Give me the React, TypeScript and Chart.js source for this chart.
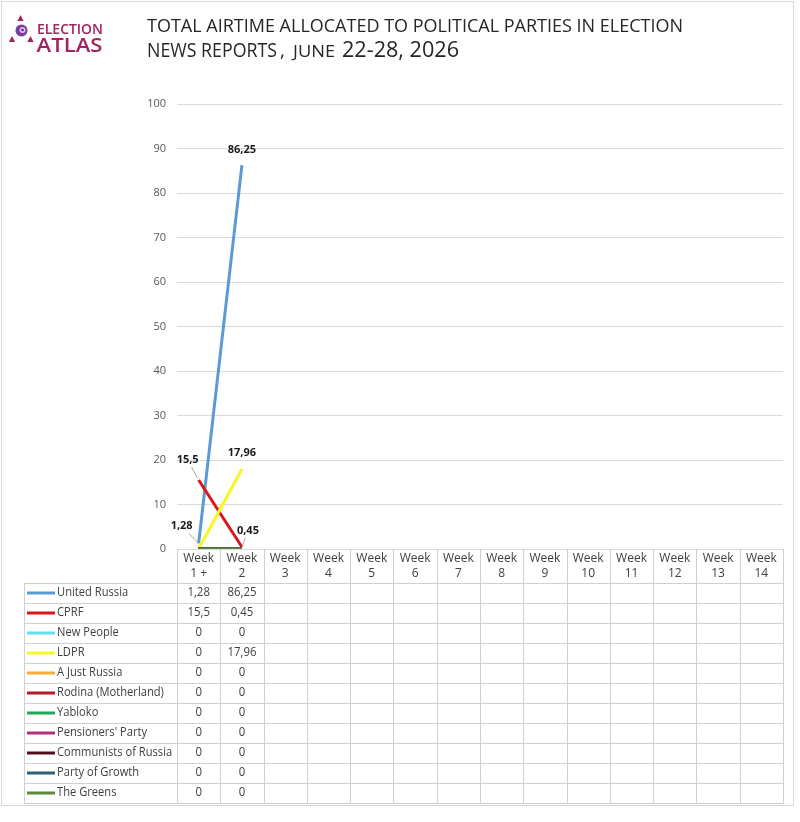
import React, { useEffect, useRef } from "react";
import { Chart, registerables } from "chart.js";

Chart.register(...registerables);

// ---------- DATA ----------
const weeks = [
  "Week 1 +", "Week 2", "Week 3", "Week 4", "Week 5", "Week 6", "Week 7",
  "Week 8", "Week 9", "Week 10", "Week 11", "Week 12", "Week 13", "Week 14",
];

const parties = [
  "United Russia", "CPRF", "New People", "LDPR", "A Just Russia",
  "Rodina (Motherland)", "Yabloko", "Pensioners' Party",
  "Communists of Russia", "Party of Growth", "The Greens",
];

const partyColors = [
  "#5B9BD5", "#DA161C", "#5FE0EC", "#F7F722", "#F5AA3C",
  "#B5192B", "#1FA657", "#B0307F", "#4A0F1A", "#2F5F73", "#5B8A3A",
];

const unitedRussia = [1.28, 86.25];
const cprf = [15.5, 0.45];
const newPeople = [0, 0];
const ldpr = [0, 17.96];
const aJustRussia = [0, 0];
const rodina = [0, 0];
const yabloko = [0, 0];
const pensioners = [0, 0];
const communistsOfRussia = [0, 0];
const partyOfGrowth = [0, 0];
const theGreens = [0, 0];

const seriesValues = [
  unitedRussia, cprf, newPeople, ldpr, aJustRussia, rodina,
  yabloko, pensioners, communistsOfRussia, partyOfGrowth, theGreens,
];

const yMin = 0;
const yMax = 100;
const yStep = 10;

const titleLine1 = "TOTAL AIRTIME ALLOCATED TO POLITICAL PARTIES IN ELECTION";
const titleLine2a = "NEWS REPORTS";
const titleLine2b = "JUNE";
const titleLine2c = "22-28, 2026";
const logoTop = "ELECTION";
const logoBottom = "ATLAS";

// which points carry a value label (series index, point index) and label offset
const labelledPoints = [
  { series: 0, index: 0, dx: -17, dy: -17, leader: true },
  { series: 0, index: 1, dx: 0, dy: -15, leader: false },
  { series: 1, index: 0, dx: -11, dy: -20, leader: true },
  { series: 1, index: 1, dx: 6, dy: -16, leader: true },
  { series: 3, index: 1, dx: 0, dy: -16, leader: false },
];

// ---------- HELPERS ----------
const FAMILY = "'Open Sans', 'DejaVu Sans', sans-serif";
const fmt = (v: number) => String(v).replace(".", ",");

function drawText(
  ctx: CanvasRenderingContext2D,
  s: string,
  x: number,
  y: number,
  o: { size: number; color: string; align?: CanvasTextAlign; weight?: string; sx?: number; fit?: number; baseline?: CanvasTextBaseline }
) {
  ctx.save();
  ctx.font = `${o.weight || "normal"} ${o.size}px ${FAMILY}`;
  ctx.fillStyle = o.color;
  ctx.textAlign = o.align || "left";
  ctx.textBaseline = o.baseline || "middle";
  let sx = o.sx || 1;
  if (o.fit) {
    const w = ctx.measureText(s).width;
    if (w > 0) sx = o.fit / w;
  }
  ctx.translate(x, y);
  ctx.scale(sx, 1);
  ctx.fillText(s, 0, 0);
  ctx.restore();
}

const backgroundPlugin = {
  id: "bgFrame",
  beforeDraw(chart: any) {
    const ctx = chart.ctx as CanvasRenderingContext2D;
    ctx.save();
    ctx.fillStyle = "#ffffff";
    ctx.fillRect(0, 0, chart.width, chart.height);
    ctx.strokeStyle = "#d9d9d9";
    ctx.lineWidth = 1;
    ctx.strokeRect(1.5, 1.5, 792, 804);
    ctx.restore();
  },
};

const headerPlugin = {
  id: "header",
  afterDraw(chart: any) {
    const ctx = chart.ctx as CanvasRenderingContext2D;
    const logoColor = "#A3235F";
    // logo icon
    ctx.save();
    ctx.fillStyle = logoColor;
    const tri = (cx: number, cy: number, s: number) => {
      ctx.beginPath();
      ctx.moveTo(cx, cy - s);
      ctx.lineTo(cx + s * 0.9, cy + s * 0.7);
      ctx.lineTo(cx - s * 0.9, cy + s * 0.7);
      ctx.closePath();
      ctx.fill();
    };
    tri(20.5, 18.5, 3.5);
    tri(12, 39.5, 3.5);
    tri(30.5, 39.5, 3.5);
    ctx.fillStyle = "#7B3B9E";
    ctx.beginPath();
    ctx.arc(21.5, 30.5, 6, 0, Math.PI * 2);
    ctx.fill();
    ctx.fillStyle = "#D8C2E6";
    ctx.beginPath();
    ctx.arc(22.5, 30, 3, 0, Math.PI * 2);
    ctx.fill();
    ctx.fillStyle = "#5A2378";
    ctx.beginPath();
    ctx.arc(22.5, 30, 1.3, 0, Math.PI * 2);
    ctx.fill();
    ctx.restore();

    drawText(ctx, logoTop, 37, 33.5, { size: 14, color: logoColor, baseline: "alphabetic", fit: 66, weight: "600" });
    drawText(ctx, logoBottom, 36.5, 51.7, { size: 20.5, color: logoColor, baseline: "alphabetic", fit: 66, weight: "600" });

    // title
    const tc = "#262626";
    drawText(ctx, titleLine1, 147, 31.5, { size: 19, color: tc, baseline: "alphabetic", fit: 536 });
    drawText(ctx, titleLine2a, 147, 56.5, { size: 20, color: tc, baseline: "alphabetic", fit: 130 });
    drawText(ctx, ",", 280, 56.5, { size: 19, color: tc, baseline: "alphabetic" });
    drawText(ctx, titleLine2b, 293, 56.5, { size: 15.5, color: tc, baseline: "alphabetic", fit: 42 });
    drawText(ctx, titleLine2c, 342, 56.5, { size: 21, color: tc, baseline: "alphabetic", fit: 117 });
  },
};

const labelPlugin = {
  id: "valueLabels",
  afterDatasetsDraw(chart: any) {
    const ctx = chart.ctx as CanvasRenderingContext2D;
    labelledPoints.forEach((lp) => {
      const meta = chart.getDatasetMeta(lp.series);
      const el = meta.data[lp.index];
      if (!el) return;
      const v = seriesValues[lp.series][lp.index];
      const lx = el.x + lp.dx;
      const ly = el.y + lp.dy;
      if (lp.leader) {
        const vx = el.x - lx;
        const vy = el.y - ly;
        const hw = 12;
        const hh = 7;
        const t = Math.min(Math.abs(hw / (vx || 1e-6)), Math.abs(hh / (vy || 1e-6)));
        ctx.save();
        ctx.strokeStyle = "#a6a6a6";
        ctx.lineWidth = 1;
        ctx.beginPath();
        ctx.moveTo(lx + vx * t, ly + vy * t);
        ctx.lineTo(el.x - vx * 0.08, el.y - vy * 0.08);
        ctx.stroke();
        ctx.restore();
      }
      drawText(ctx, fmt(v), lx, ly, { size: 11, color: "#1a1a1a", align: "center", weight: "bold" });
    });
  },
};

const tablePlugin = {
  id: "dataTable",
  afterDraw(chart: any) {
    const ctx = chart.ctx as CanvasRenderingContext2D;
    const xs = chart.scales.x;
    const area = chart.chartArea;
    const top = area.bottom;
    const headerBottom = top + 34;
    const rowH = 20;
    const tableBottom = headerBottom + rowH * parties.length;
    const legendLeft = 24;
    const centers = weeks.map((_, i) => xs.getPixelForValue(i));
    const bounds: number[] = [xs.left];
    for (let i = 1; i < centers.length; i++) bounds.push((centers[i - 1] + centers[i]) / 2);
    bounds.push(xs.right);

    ctx.save();
    ctx.strokeStyle = "#d0d0d0";
    ctx.lineWidth = 1;
    ctx.beginPath();
    bounds.forEach((b) => {
      const x = Math.round(b) + 0.5;
      ctx.moveTo(x, top);
      ctx.lineTo(x, tableBottom);
    });
    ctx.moveTo(legendLeft + 0.5, headerBottom);
    ctx.lineTo(legendLeft + 0.5, tableBottom);
    for (let r = 0; r <= parties.length; r++) {
      const y = Math.round(headerBottom + r * rowH) + 0.5;
      ctx.moveTo(legendLeft, y);
      ctx.lineTo(Math.round(xs.right) + 1, y);
    }
    ctx.stroke();
    ctx.restore();

    // header labels
    weeks.forEach((w, i) => {
      const parts = w.split(" ");
      const first = parts[0];
      const rest = parts.slice(1).join(" ");
      drawText(ctx, first, centers[i], top + 9.5, { size: 12, color: "#404040", align: "center" });
      drawText(ctx, rest, centers[i], top + 25, { size: 12, color: "#404040", align: "center" });
    });

    // rows
    parties.forEach((p, r) => {
      const cy = headerBottom + r * rowH + rowH / 2;
      ctx.save();
      ctx.strokeStyle = partyColors[r];
      ctx.lineWidth = 3;
      ctx.beginPath();
      ctx.moveTo(27, cy);
      ctx.lineTo(55, cy);
      ctx.stroke();
      ctx.restore();
      drawText(ctx, p, 57, cy, { size: 12, color: "#404040", sx: 0.93 });
      seriesValues[r].forEach((v, i) => {
        drawText(ctx, fmt(v), centers[i], cy, { size: 12, color: "#404040", align: "center", sx: 0.95 });
      });
    });
  },
};

export default function App() {
  const ref = useRef<HTMLCanvasElement>(null);

  useEffect(() => {
    if (!ref.current) return;
    const chart = new Chart(ref.current, {
      type: "line",
      data: {
        labels: weeks,
        datasets: parties.map((p, i) => ({
          label: p,
          data: seriesValues[i],
          borderColor: partyColors[i],
          backgroundColor: partyColors[i],
          borderWidth: 3,
          pointRadius: 0,
          pointHoverRadius: 0,
          tension: 0,
          fill: false,
          order: -i,
        })),
      },
      options: {
        responsive: false,
        animation: false,
        devicePixelRatio: 1,
        layout: { padding: { left: 0, right: 17, top: 104, bottom: 273 } },
        plugins: {
          legend: { display: false },
          title: { display: false },
          tooltip: { enabled: false },
        },
        scales: {
          x: { type: "category", offset: true, display: false },
          y: {
            min: yMin,
            max: yMax,
            ticks: {
              stepSize: yStep,
              padding: 11,
              color: "#595959",
              font: { family: FAMILY, size: 11 },
            },
            grid: { color: "#d9d9d9", drawTicks: false, lineWidth: 1 },
            border: { display: false },
            afterFit: (s: any) => {
              s.width = 177;
            },
          },
        },
      },
      plugins: [backgroundPlugin, labelPlugin, tablePlugin, headerPlugin],
    } as any);
    return () => chart.destroy();
  }, []);

  return (
    <div style={{ position: "absolute", left: 0, top: 0, width: 800, height: 822, background: "#fff" }}>
      <canvas ref={ref} width={800} height={822} style={{ display: "block", width: 800, height: 822 }} />
    </div>
  );
}
